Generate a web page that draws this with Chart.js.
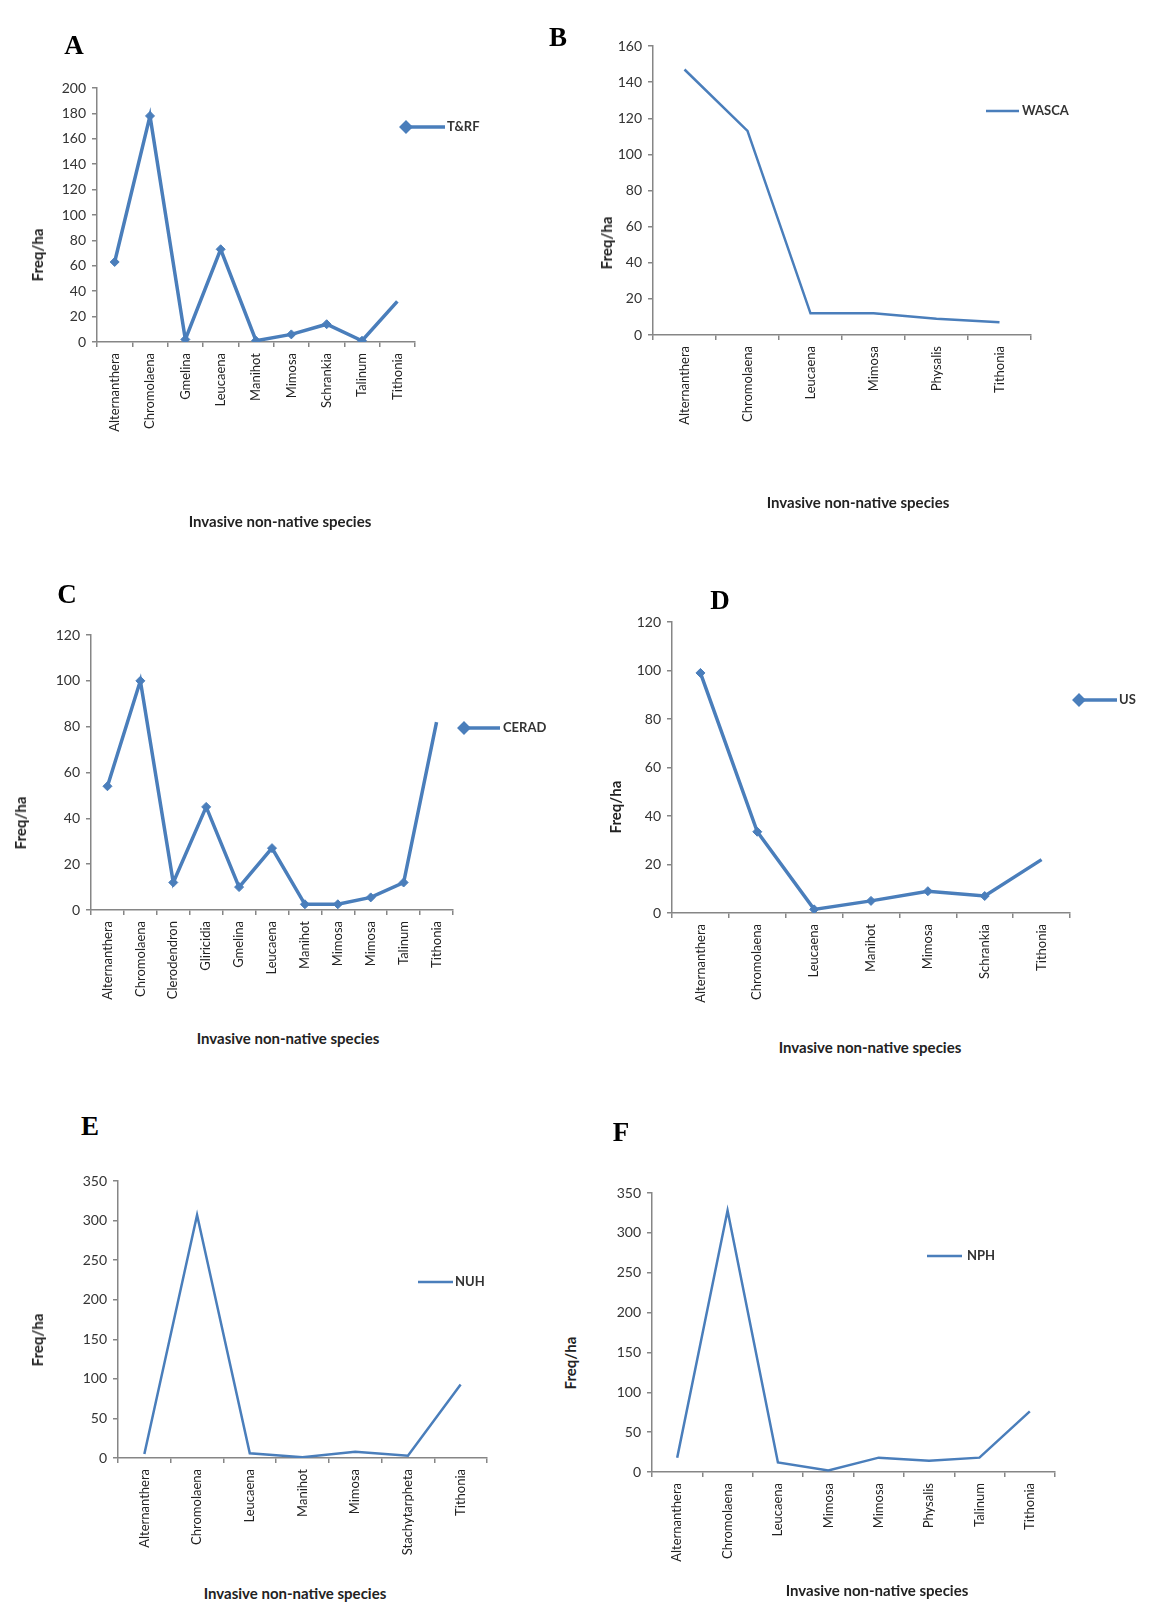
<!DOCTYPE html>
<html>
<head>
<meta charset="utf-8">
<script src="https://cdn.jsdelivr.net/npm/chart.js@4.4.1/dist/chart.umd.min.js"></script>
<style>
  html, body { margin:0; padding:0; background:#fff; }
  #page { position:relative; width:1160px; height:1617px; background:#fff; overflow:hidden; }
  canvas { position:absolute; }
  .letter { position:absolute; font-family:"Liberation Serif","DejaVu Serif",serif; font-weight:bold; font-size:27px; color:#000; transform:translate(-50%,-50%); }
  .xt { position:absolute; font-family:Lato,"Open Sans",sans-serif; font-weight:bold; font-size:15px; color:#222; transform:translate(-50%,-50%); white-space:nowrap; }
  .yt { position:absolute; font-family:Lato,"Open Sans",sans-serif; font-weight:bold; font-size:15px; color:#222; transform:translate(-50%,-50%) rotate(-90deg); white-space:nowrap; }
</style>
</head>
<body>
<div id="page"></div>
<script>
// ---------- DATA ----------
const labelsA = ['Alternanthera','Chromolaena','Gmelina','Leucaena','Manihot','Mimosa','Schrankia','Talinum','Tithonia'];
const valuesA = [63, 178, 2, 73, 1, 6, 14, 1, 32];
const seriesA = 'T&RF';
const yMaxA = 200, yStepA = 20;

const labelsB = ['Alternanthera','Chromolaena','Leucaena','Mimosa','Physalis','Tithonia'];
const valuesB = [147, 113, 12, 12, 9, 7];
const seriesB = 'WASCA';
const yMaxB = 160, yStepB = 20;

const labelsC = ['Alternanthera','Chromolaena','Clerodendron','Gliricidia','Gmelina','Leucaena','Manihot','Mimosa','Mimosa','Talinum','Tithonia'];
const valuesC = [54, 100, 12, 45, 10, 27, 2.5, 2.5, 5.5, 12, 82];
const seriesC = 'CERAD';
const yMaxC = 120, yStepC = 20;

const labelsD = ['Alternanthera','Chromolaena','Leucaena','Manihot','Mimosa','Schrankia','Tithonia'];
const valuesD = [99, 33.5, 1.5, 5, 9, 7, 22];
const seriesD = 'US';
const yMaxD = 120, yStepD = 20;

const labelsE = ['Alternanthera','Chromolaena','Leucaena','Manihot','Mimosa','Stachytarpheta','Tithonia'];
const valuesE = [5, 307, 6, 1, 8, 3, 93];
const seriesE = 'NUH';
const yMaxE = 350, yStepE = 50;

const labelsF = ['Alternanthera','Chromolaena','Leucaena','Mimosa','Mimosa','Physalis','Talinum','Tithonia'];
const valuesF = [18, 328, 12, 2, 18, 14, 18, 76];
const seriesF = 'NPH';
const yMaxF = 350, yStepF = 50;

const xTitle = 'Invasive non-native species';
const yTitle = 'Freq/ha';

// ---------- STYLE / LAYOUT ----------
const BLUE = '#4A7EBB';
const AXIS = '#868686';
const WY = 50, HX = 100;
Chart.defaults.font.family = 'Lato, "Open Sans", sans-serif';

const legendPlugin = {
  id: 'legendAt',
  afterDraw(chart, args, o) {
    if (!o || o.x1 === undefined) return;
    const ctx = chart.ctx, ds = chart.data.datasets[0];
    ctx.save();
    ctx.strokeStyle = ds.borderColor;
    ctx.lineWidth = o.lw;
    ctx.beginPath(); ctx.moveTo(o.x1, o.y); ctx.lineTo(o.x2, o.y); ctx.stroke();
    if (o.marker) {
      ctx.fillStyle = ds.borderColor; ctx.strokeStyle = ds.borderColor;
      Chart.helpers.drawPoint(ctx, {pointStyle:'rectRot', radius:4.5, borderWidth:1}, o.x1 + 3, o.y);
    }
    ctx.fillStyle = '#333';
    ctx.font = 'bold 13px Lato, "Open Sans", sans-serif';
    ctx.textBaseline = 'middle';
    ctx.textAlign = 'left';
    ctx.fillText(ds.label, o.tx, o.y);
    ctx.restore();
  }
};

const page = document.getElementById('page');
function addDiv(cls, text, x, y) {
  const d = document.createElement('div');
  d.className = cls; d.textContent = text;
  d.style.left = x + 'px'; d.style.top = y + 'px';
  page.appendChild(d);
}

function makePanel(p) {
  const cv = document.createElement('canvas');
  cv.width = p.box.w; cv.height = p.box.h;
  cv.style.left = p.box.x + 'px'; cv.style.top = p.box.y + 'px';
  cv.style.width = p.box.w + 'px'; cv.style.height = p.box.h + 'px';
  page.appendChild(cv);
  const n = p.values.length;
  new Chart(cv.getContext('2d'), {
    type: 'line',
    data: {
      labels: p.labels,
      datasets: [{
        label: p.series,
        data: p.values,
        borderColor: BLUE,
        backgroundColor: BLUE,
        borderWidth: p.lw,
        tension: 0,
        fill: false,
        pointStyle: 'rectRot',
        pointRadius: p.marker ? (c => c.dataIndex === n - 1 ? 0 : 4.5) : 0,
        pointBorderWidth: 1,
        pointBackgroundColor: BLUE,
        pointBorderColor: BLUE
      }]
    },
    options: {
      responsive: false,
      animation: false,
      devicePixelRatio: 1,
      layout: { padding: {
        left: p.area.L - p.box.x - WY,
        top: p.area.T - p.box.y,
        right: p.box.x + p.box.w - p.area.R,
        bottom: p.box.y + p.box.h - p.area.B - HX
      }},
      plugins: {
        legend: { display: false },
        tooltip: { enabled: false },
        legendAt: {
          x1: p.leg.x1 - p.box.x, x2: p.leg.x2 - p.box.x, y: p.leg.y - p.box.y,
          tx: p.leg.tx - p.box.x, marker: p.marker, lw: p.lw
        }
      },
      scales: {
        x: {
          type: 'category',
          offset: true,
          afterFit: s => { s.height = HX; },
          grid: { display: true, offset: true, drawOnChartArea: false, drawTicks: true, tickLength: 5, color: AXIS, lineWidth: 1.5 },
          border: { display: true, color: AXIS, width: 1.5 },
          ticks: { autoSkip: false, minRotation: 90, maxRotation: 90, padding: 6, color: '#222', font: { size: 13 } }
        },
        y: {
          min: 0, max: p.yMax,
          afterFit: s => { s.width = WY; },
          grid: { display: true, drawOnChartArea: false, drawTicks: true, tickLength: 5, color: AXIS, lineWidth: 1.5 },
          border: { display: true, color: AXIS, width: 1.5 },
          ticks: { stepSize: p.yStep, padding: 6, color: '#333', font: { size: 14 } }
        }
      }
    },
    plugins: [legendPlugin]
  });
  addDiv('letter', p.letter, p.letterPos[0], p.letterPos[1]);
  addDiv('xt', xTitle, p.xtPos[0], p.xtPos[1]);
  addDiv('yt', yTitle, p.ytPos[0], p.ytPos[1]);
}

makePanel({ labels: labelsA, values: valuesA, series: seriesA, yMax: yMaxA, yStep: yStepA, marker: true, lw: 3.5,
  box: {x:0, y:60, w:540, h:480}, area: {L:97, T:88, R:415, B:342},
  leg: {x1:403, x2:445, y:127, tx:447}, letter:'A', letterPos:[74,45], xtPos:[280,521], ytPos:[37,255] });

makePanel({ labels: labelsB, values: valuesB, series: seriesB, yMax: yMaxB, yStep: yStepB, marker: false, lw: 2.5,
  box: {x:560, y:30, w:600, h:480}, area: {L:653, T:46, R:1031, B:335},
  leg: {x1:986, x2:1019, y:111, tx:1022}, letter:'B', letterPos:[558,37], xtPos:[858,502], ytPos:[606,243] });

makePanel({ labels: labelsC, values: valuesC, series: seriesC, yMax: yMaxC, yStep: yStepC, marker: true, lw: 3.5,
  box: {x:0, y:600, w:560, h:420}, area: {L:91, T:635, R:453, B:910},
  leg: {x1:461, x2:500, y:728, tx:503}, letter:'C', letterPos:[67,594], xtPos:[288,1038], ytPos:[20,823] });

makePanel({ labels: labelsD, values: valuesD, series: seriesD, yMax: yMaxD, yStep: yStepD, marker: true, lw: 3.5,
  box: {x:600, y:600, w:560, h:420}, area: {L:672, T:622, R:1070, B:913},
  leg: {x1:1076, x2:1117, y:700, tx:1119}, letter:'D', letterPos:[720,600], xtPos:[870,1047], ytPos:[615,807] });

makePanel({ labels: labelsE, values: valuesE, series: seriesE, yMax: yMaxE, yStep: yStepE, marker: false, lw: 2.5,
  box: {x:0, y:1150, w:560, h:430}, area: {L:118, T:1181, R:487, B:1458},
  leg: {x1:418, x2:453, y:1282, tx:455}, letter:'E', letterPos:[90,1126], xtPos:[295,1593], ytPos:[37,1340] });

makePanel({ labels: labelsF, values: valuesF, series: seriesF, yMax: yMaxF, yStep: yStepF, marker: false, lw: 2.5,
  box: {x:580, y:1160, w:580, h:430}, area: {L:652, T:1193, R:1055, B:1472},
  leg: {x1:927, x2:962, y:1256, tx:967}, letter:'F', letterPos:[621,1132], xtPos:[877,1590], ytPos:[570,1363] });
</script>
</body>
</html>
